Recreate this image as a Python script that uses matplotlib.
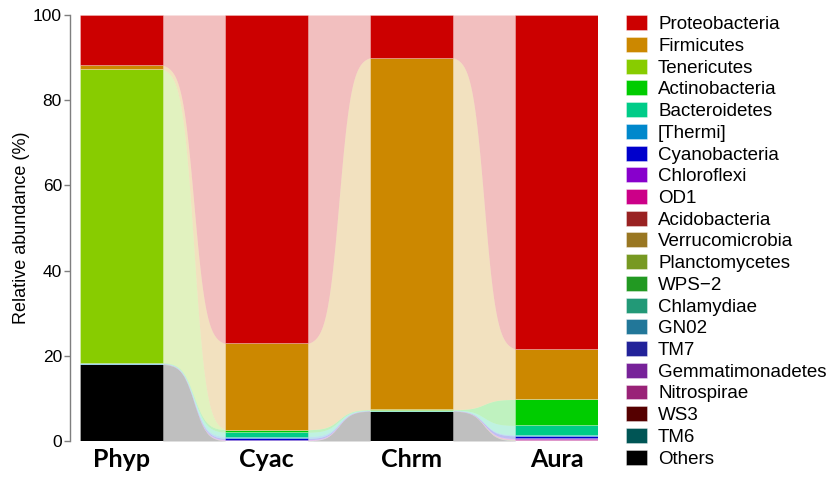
import numpy as np
import matplotlib
matplotlib.use("Agg")
import matplotlib.pyplot as plt
from matplotlib.patches import Patch

plt.rcParams['font.family'] = ['Liberation Sans', 'DejaVu Sans']

# Samples along the x axis
samples = ['Phyp', 'Cyac', 'Chrm', 'Aura']

# Phyla, listed top of the stack first (same as legend order)
phyla = ['Proteobacteria', 'Firmicutes', 'Tenericutes', 'Actinobacteria',
         'Bacteroidetes', '[Thermi]', 'Cyanobacteria', 'Chloroflexi', 'OD1',
         'Acidobacteria', 'Verrucomicrobia', 'Planctomycetes', 'WPS\u22122',
         'Chlamydiae', 'GN02', 'TM7', 'Gemmatimonadetes', 'Nitrospirae',
         'WS3', 'TM6', 'Others']

colors = ['#CC0000', '#CC8800', '#88CC00', '#00CC00', '#00CC88', '#0088CC',
          '#0000CC', '#8800CC', '#CC0088', '#992222', '#997722', '#779922',
          '#229922', '#229977', '#227799', '#222299', '#772299', '#992277',
          '#550000', '#005555', '#000000']

# Relative abundance (%) of each phylum per sample, in phyla order
phyp = [11.8, 0.9, 68.9, 0.1, 0.1, 0.05, 0.05, 0.02, 0.02, 0.02, 0.01, 0.01,
        0.01, 0.01, 0.0, 0.0, 0.0, 0.0, 0.0, 0.0, 18.0]
cyac = [77.1, 20.2, 0.05, 0.6, 1.0, 0.45, 0.3, 0.15, 0.05, 0.02, 0.02, 0.02,
        0.01, 0.01, 0.01, 0.01, 0.0, 0.0, 0.0, 0.0, 0.0]
chrm = [10.0, 82.6, 0.05, 0.1, 0.1, 0.05, 0.05, 0.02, 0.01, 0.01, 0.01, 0.0,
        0.0, 0.0, 0.0, 0.0, 0.0, 0.0, 0.0, 0.0, 7.0]
aura = [78.4, 11.8, 0.05, 6.1, 2.2, 0.25, 0.6, 0.15, 0.1, 0.1, 0.05, 0.05,
        0.03, 0.02, 0.02, 0.01, 0.01, 0.01, 0.0, 0.0, 0.05]

# stack from the bottom: Others first, Proteobacteria last
vals = np.array([phyp, cyac, chrm, aura])[:, ::-1]
cols = colors[::-1]
tops = np.cumsum(vals, axis=1)
bots = tops - vals

fig = plt.figure(figsize=(8.3, 4.78), dpi=100)
ax = fig.add_axes([0.0964, 0.0774, 0.6241, 0.8912])

width = 0.57
x = np.arange(len(samples))

# smooth ribbons joining the same phylum in neighbouring bars
t = np.linspace(0, 1, 200)
k = 10.0
s = 1 / (1 + np.exp(-k * (t - 0.5)))
s = (s - s[0]) / (s[-1] - s[0])
for i in range(len(samples) - 1):
    xs = x[i] + width / 2 + t * (1 - width)
    for j in range(vals.shape[1]):
        lo = bots[i, j] + (bots[i + 1, j] - bots[i, j]) * s
        hi = tops[i, j] + (tops[i + 1, j] - tops[i, j]) * s
        ax.fill_between(xs, lo, hi, color=cols[j], alpha=0.25, lw=0)

# stacked bars
for j in range(vals.shape[1]):
    ax.bar(x, vals[:, j], width=width, bottom=bots[:, j], color=cols[j],
           edgecolor=(1, 1, 1, 0.35), linewidth=0.5)

ax.set_xlim(-0.285, 3.285)
ax.set_ylim(0, 100)
ax.set_yticks([0, 20, 40, 60, 80, 100])
ax.set_xticks(x)
ax.set_xticklabels(samples, fontsize=18, fontweight='bold', family='Lato')
ax.tick_params(axis='x', length=0, pad=5)
ax.tick_params(axis='y', labelsize=12.5, color='#7f7f7f', length=4,
               width=1, pad=2)
ax.set_ylabel('Relative abundance (%)', fontsize=13, labelpad=2)

for side in ['top', 'right', 'bottom']:
    ax.spines[side].set_visible(False)
ax.spines['left'].set_position(('outward', 7))
ax.spines['left'].set_color('#7f7f7f')
ax.spines['left'].set_linewidth(1)

handles = [Patch(facecolor=c, edgecolor=(1, 1, 1, 0.5), linewidth=0.5)
           for c in colors]
fig.legend(handles, phyla, loc='upper left', bbox_to_anchor=(0.754, 0.968),
           frameon=False, fontsize=13.5, handlelength=1.12, handleheight=0.85,
           handletextpad=0.6, labelspacing=0.2, borderaxespad=0, borderpad=0)

fig.savefig('out.png', dpi=100)
